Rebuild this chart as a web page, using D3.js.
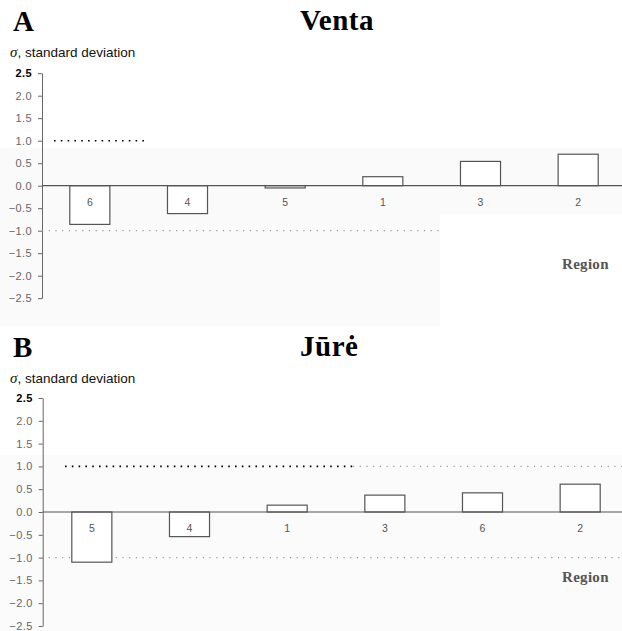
<!DOCTYPE html>
<html><head><meta charset="utf-8">
<script src="https://cdn.jsdelivr.net/npm/d3@7"></script>
<style>body{margin:0;background:#fff}svg{display:block}</style>
</head><body>
<script>
// ---- data ----
const regionsA = ["6","4","5","1","3","2"];
const valuesA = [-0.86,-0.62,-0.05,0.20,0.54,0.70];
const regionsB = ["5","4","1","3","6","2"];
const valuesB = [-1.10,-0.54,0.15,0.37,0.42,0.61];
const yTicks = [2.5,2.0,1.5,1.0,0.5,0.0,-0.5,-1.0,-1.5,-2.0,-2.5];
const yDomain = [-2.5,2.5];
const refLevels = [1.0,-1.0];
const panelLetters = ["A","B"];
const panelTitles = ["Venta","Jūrė"];
const yLabel = "standard deviation";
const xLabel = "Region";

const W = 622, H = 631;
const svg = d3.select("body").append("svg").attr("width",W).attr("height",H);

// faint scan-tone backgrounds
svg.append("rect").attr("x",0).attr("y",148).attr("width",622).attr("height",66).attr("fill","#fafafa");
svg.append("rect").attr("x",0).attr("y",214).attr("width",440).attr("height",112).attr("fill","#fafafa");
svg.append("rect").attr("x",0).attr("y",455).attr("width",622).attr("height",176).attr("fill","#fbfbfb");

const panels = [
  {regions:regionsA, values:valuesA, top:0, axisX:42, xr:[41,627], yr:[298.2,73.2],
   upper:[54,149,null], lower:[42,440], regionY:269},
  {regions:regionsB, values:valuesB, top:326, axisX:42.7, xr:[43,629], yr:[626,398],
   upper:[65,353,622], lower:[42,622], regionY:582}
];

panels.forEach((p,i)=>{
  const g = svg.append("g");
  const x = d3.scaleBand().domain(p.regions).range(p.xr).paddingInner(0.59).paddingOuter(0.295);
  const y = d3.scaleLinear().domain(yDomain).range(p.yr);

  // titles
  g.append("text").attr("x",13).attr("y",p.top+31).text(panelLetters[i])
    .attr("font-family","Liberation Serif, serif").attr("font-weight","bold").attr("font-size",29).attr("fill","#000");
  g.append("text").attr("x",300).attr("y",p.top+30).text(panelTitles[i])
    .attr("font-family","Liberation Serif, serif").attr("font-weight","bold").attr("font-size",29)
    .attr("letter-spacing",0.5).attr("fill","#000");
  const yl = g.append("text").attr("x",10).attr("y",p.top+57)
    .attr("font-family","Liberation Sans Narrow, Liberation Sans, sans-serif").attr("font-size",13.5).attr("fill","#111");
  yl.append("tspan").attr("font-family","Liberation Serif, serif").attr("font-style","italic").attr("font-size",15).text("σ");
  yl.append("tspan").text(", " + yLabel);

  // y axis
  const ax = g.append("g").attr("transform",`translate(${p.axisX},0)`)
    .call(d3.axisLeft(y).tickValues(yTicks).tickFormat(d3.format(".1f")).tickSize(4).tickPadding(6).tickSizeOuter(0));
  ax.select(".domain").attr("stroke","#666");
  ax.selectAll(".tick line").attr("stroke","#666");
  ax.selectAll(".tick text").attr("font-family","Liberation Sans, Arial, sans-serif").attr("font-size",11)
    .attr("letter-spacing",0.4)
    .attr("fill",d=>d===2.5?"#000":"#666").attr("font-weight",d=>d===2.5?"bold":"normal");

  // reference dotted lines
  g.append("line").attr("x1",p.upper[0]).attr("x2",p.upper[1]).attr("y1",y(refLevels[0])).attr("y2",y(refLevels[0]))
    .attr("stroke","#000").attr("stroke-width",1.6).attr("stroke-dasharray","1.6,5.2");
  if(p.upper[2]!==null){
    g.append("line").attr("x1",p.upper[1]).attr("x2",p.upper[2]).attr("y1",y(refLevels[0])).attr("y2",y(refLevels[0]))
      .attr("stroke","#999").attr("stroke-width",1.2).attr("stroke-dasharray","1.2,5.5");
  }
  g.append("line").attr("x1",p.lower[0]).attr("x2",p.lower[1]).attr("y1",y(refLevels[1])).attr("y2",y(refLevels[1]))
    .attr("stroke","#999").attr("stroke-width",1.2).attr("stroke-dasharray","1.2,5.5");

  // bars
  g.selectAll("rect.bar").data(p.regions.map((r,k)=>({r,v:p.values[k]}))).join("rect")
    .attr("class","bar")
    .attr("x",d=>x(d.r)).attr("width",x.bandwidth())
    .attr("y",d=>y(Math.max(0,d.v))).attr("height",d=>Math.abs(y(d.v)-y(0)))
    .attr("fill","#fff").attr("stroke","#555").attr("stroke-width",1.2);

  // zero line
  g.append("line").attr("x1",p.axisX).attr("x2",W).attr("y1",y(0)).attr("y2",y(0))
    .attr("stroke","#555").attr("stroke-width",1.2);

  // region number labels
  g.selectAll("text.rl").data(p.regions).join("text").attr("class","rl")
    .attr("x",d=>x(d)+x.bandwidth()/2).attr("y",y(0)+20)
    .attr("text-anchor","middle").attr("font-family","Liberation Sans, Arial, sans-serif")
    .attr("font-size",10.5).attr("fill","#555").text(d=>d);

  // x label
  g.append("text").attr("x",562).attr("y",p.regionY).text(xLabel)
    .attr("font-family","Liberation Serif, serif").attr("font-weight","bold").attr("font-size",15)
    .attr("letter-spacing",0.3).attr("fill","#555");
});
</script>
</body></html>
